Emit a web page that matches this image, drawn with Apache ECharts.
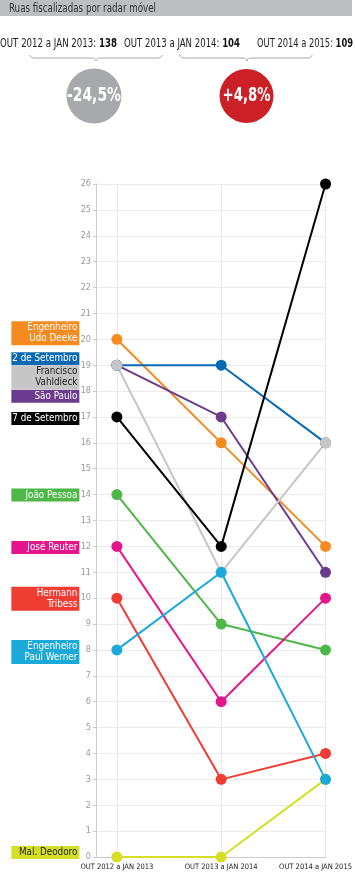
<!DOCTYPE html>
<html>
<head>
<meta charset="utf-8">
<script src="https://cdn.jsdelivr.net/npm/echarts@6.0.0/dist/echarts.min.js"></script>
<style>
html,body{margin:0;padding:0;background:#fff;}
#chart{width:355px;height:874px;}
</style>
</head>
<body>
<div id="chart"></div>
<script>
// ---- data ----
const titleText = 'Ruas fiscalizadas por radar móvel';
const headerPeriods = ['OUT 2012 a JAN 2013', 'OUT 2013 a JAN 2014', 'OUT 2014 a 2015'];
const headerTotals = [138, 104, 109];
const changes = ['-24,5%', '+4,8%'];

const periods = ['OUT 2012 a JAN 2013', 'OUT 2013 a JAN 2014', 'OUT 2014 a JAN 2015'];
const yTicks = [0, 26, 1]; // min, max, step

const udoDeeke = [20, 16, 12];
const doisDeSetembro = [19, 19, 16];
const franciscoVahldieck = [19, 11, 16];
const saoPaulo = [19, 17, 11];
const seteDeSetembro = [17, 12, 26];
const joaoPessoa = [14, 9, 8];
const joseReuter = [12, 6, 10];
const hermannTribess = [10, 3, 4];
const paulWerner = [8, 11, 3];
const malDeodoro = [0, 0, 3];

// ---- font selection (condensed if available) ----
const cnv = document.createElement('canvas');
const ctx = cnv.getContext('2d');
function measure(text, size, family, weight) {
  ctx.font = (weight || 'normal') + ' ' + size + 'px ' + family;
  return ctx.measureText(text).width;
}
function hasFont(name) {
  const t = 'OUT 2012 a JAN 2013 Engenheiro';
  return measure(t, 20, '"' + name + '", monospace') !== measure(t, 20, 'monospace') ||
         measure(t, 20, '"' + name + '", serif') !== measure(t, 20, 'serif');
}
const candidates = ['Liberation Sans Narrow', 'DejaVu Sans Condensed', 'Roboto Condensed', 'Arial Narrow', 'Roboto', 'Liberation Sans'];
let family = 'sans-serif';
for (let i = 0; i < candidates.length; i++) {
  if (hasFont(candidates[i])) { family = '"' + candidates[i] + '"'; break; }
}
const FONT = family + ', sans-serif';
function fitSize(text, targetW, weight) {
  return Math.round(10 * targetW / measure(text, 10, FONT, weight) * 10) / 10;
}
function fitScale(text, size, targetW, weight) {
  return targetW / measure(text, size, FONT, weight);
}
const xLabelSize = Math.min(9.5, fitSize(periods[0], 73));
const tagSize = Math.min(12.5, fitSize('7 de Setembro', 65));

// ---- styles (drawing order) ----
const seriesDefs = [
  { name: 'Engenheiro\nUdo Deeke', data: udoDeeke, color: '#f58a1f', text: '#fff', dy: -6 },
  { name: '2 de Setembro', data: doisDeSetembro, color: '#0a69b4', text: '#fff', dy: -6.5 },
  { name: 'São Paulo', data: saoPaulo, color: '#6b3c8d', text: '#fff', dy: 31 },
  { name: 'Francisco\nVahldieck', data: franciscoVahldieck, color: '#c6c6c6', text: '#222', dy: 12 },
  { name: '7 de Setembro', data: seteDeSetembro, color: '#000000', text: '#fff', dy: 1.5 },
  { name: 'João Pessoa', data: joaoPessoa, color: '#4db848', text: '#fff', dy: 0.5 },
  { name: 'José Reuter', data: joseReuter, color: '#e5168b', text: '#fff', dy: 1 },
  { name: 'Hermann\nTribess', data: hermannTribess, color: '#ee3d32', text: '#fff', dy: 0.5 },
  { name: 'Mal. Deodoro', data: malDeodoro, color: '#d5df26', text: '#222', dy: -4.5 },
  { name: 'Engenheiro\nPaul Werner', data: paulWerner, color: '#1aa9d8', text: '#fff', dy: 2 }
];

const series = seriesDefs.map(function (s) {
  return {
    name: s.name,
    type: 'line',
    symbol: 'circle',
    symbolSize: 11,
    lineStyle: { width: 2, color: s.color },
    itemStyle: { color: s.color },
    emphasis: { disabled: true },
    animation: false,
    data: s.data.map(function (v, i) {
      const item = { value: [i, v] };
      if (i === 0) {
        item.label = {
          show: true,
          position: 'left',
          distance: 32,
          offset: [0, s.dy],
          formatter: s.name,
          width: 64,
          align: 'right',
          backgroundColor: s.color,
          color: s.text,
          padding: [1, 2, 1, 2],
          fontFamily: FONT,
          fontSize: tagSize,
          lineHeight: 11
        };
      }
      return item;
    })
  };
});

// ---- header graphics ----
function brace(x1, xm, x2, y) {
  const st = { stroke: '#aaaaaa', lineWidth: 1, fill: null };
  const h = y + 3;
  return {
    type: 'group',
    children: [
      { type: 'bezierCurve', shape: { x1: x1, y1: y, cpx1: x1, cpy1: h, x2: x1 + 5, y2: h }, style: st },
      { type: 'line', shape: { x1: x1 + 5, y1: h, x2: xm - 5, y2: h }, style: st },
      { type: 'bezierCurve', shape: { x1: xm - 5, y1: h, cpx1: xm, cpy1: h, x2: xm, y2: y + 6 }, style: st },
      { type: 'bezierCurve', shape: { x1: xm, y1: y + 6, cpx1: xm, cpy1: h, x2: xm + 5, y2: h }, style: st },
      { type: 'line', shape: { x1: xm + 5, y1: h, x2: x2 - 5, y2: h }, style: st },
      { type: 'bezierCurve', shape: { x1: x2 - 5, y1: h, cpx1: x2, cpy1: h, x2: x2, y2: y }, style: st }
    ]
  };
}
const HSIZE = 12;
function headerText(i, x, align, targetW) {
  const a = headerPeriods[i] + ': ';
  const b = String(headerTotals[i]);
  const w = measure(a, HSIZE, FONT) + measure(b, HSIZE, FONT, 'bold');
  return {
    type: 'text', x: x, y: 44, scaleX: targetW / w,
    style: {
      text: '{r|' + a + '}{b|' + b + '}',
      rich: {
        r: { fontFamily: FONT, fontSize: HSIZE, fill: '#222' },
        b: { fontFamily: FONT, fontSize: HSIZE, fontWeight: 'bold', fill: '#111' }
      },
      align: align, verticalAlign: 'middle'
    }
  };
}
function circleText(txt, cx, targetW) {
  return {
    type: 'text', x: cx, y: 96, scaleX: fitScale(txt, 20, targetW, 'bold'),
    style: { text: txt, fontFamily: FONT, fontSize: 20, fontWeight: 'bold', fill: '#fff', align: 'center', verticalAlign: 'middle' }
  };
}
const graphics = [
  { type: 'rect', shape: { x: 0, y: 0, width: 352, height: 16 }, style: { fill: '#bdbec0' } },
  { type: 'text', x: 9, y: 8.5, scaleX: fitScale(titleText, 12.5, 147), style: { text: titleText, fontFamily: FONT, fontSize: 12.5, fill: '#333', verticalAlign: 'middle' } },
  headerText(0, 0, 'left', 117),
  headerText(1, 124, 'left', 116),
  headerText(2, 353, 'right', 96),
  brace(30, 96, 162, 55),
  brace(180, 247, 312, 55),
  { type: 'circle', shape: { cx: 94, cy: 96, r: 27.5 }, style: { fill: '#a7a9ac' } },
  { type: 'circle', shape: { cx: 246.5, cy: 96, r: 27 }, style: { fill: '#cc2027' } },
  circleText(changes[0], 94, 54),
  circleText(changes[1], 246.5, 48)
];

const chart = echarts.init(document.getElementById('chart'), null, { renderer: 'canvas' });
chart.setOption({
  backgroundColor: '#fff',
  animation: false,
  graphic: graphics,
  grid: { left: 96, right: 27, top: 184, bottom: 17, containLabel: false },
  xAxis: {
    type: 'value',
    min: -0.2,
    max: periods.length - 1,
    axisLine: { show: true, onZero: false, lineStyle: { color: '#cccccc', width: 1 } },
    axisTick: { show: false, customValues: periods.map(function (p, i) { return i; }) },
    splitLine: { show: true, lineStyle: { color: '#e8e8e8', width: 1 } },
    axisLabel: {
      customValues: periods.map(function (p, i) { return i; }),
      margin: 6,
      fontFamily: FONT,
      fontSize: xLabelSize,
      color: '#222',
      formatter: function (v) {
        const i = Math.round(v);
        if (i === periods.length - 1) return '{last|' + periods[i] + '}';
        return periods[i];
      },
      rich: { last: { fontFamily: FONT, fontSize: xLabelSize, color: '#222', padding: [0, 20, 0, 0] } }
    }
  },
  yAxis: {
    type: 'value',
    min: yTicks[0],
    max: yTicks[1],
    interval: yTicks[2],
    axisLine: { show: true, onZero: false, lineStyle: { color: '#cccccc', width: 1 } },
    axisTick: { show: true, length: 3, lineStyle: { color: '#cccccc' } },
    splitLine: { show: true, lineStyle: { color: '#ebebeb', width: 1 } },
    axisLabel: { margin: 5, fontFamily: FONT, fontSize: 9, color: '#9a9a9a' }
  },
  series: series
});
</script>
</body>
</html>
